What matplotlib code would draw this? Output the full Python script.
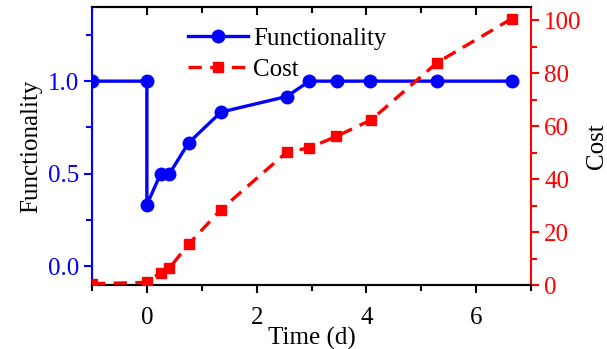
import numpy as np
import matplotlib.pyplot as plt
from matplotlib.ticker import MultipleLocator

plt.rcParams["font.family"] = ["Liberation Serif", "DejaVu Serif"]
plt.rcParams["font.size"] = 18

# data
func_t = [-1, 0, 0, 0.25, 0.41, 0.76, 1.35, 2.55, 2.96, 3.47, 4.07, 5.29, 6.65]
func_val = [1.0, 1.0, 0.333, 0.5, 0.5, 0.667, 0.833, 0.917, 1.0, 1.0, 1.0, 1.0, 1.0]

cost_t = [-1, 0, 0.25, 0.41, 0.76, 1.35, 2.55, 2.96, 3.45, 4.09, 5.29, 6.65]
cost_val = [0.5, 1.0, 4.7, 6.4, 15.4, 28.5, 50.2, 51.8, 56.1, 62.4, 84.0, 100.6]

BLUE = "#0000ff"
RED = "#ff0000"

fig = plt.figure(figsize=(6.07, 3.49), dpi=100)
ax = fig.add_axes([92 / 607, 64 / 349, 439 / 607, 278 / 349])
ax2 = ax.twinx()

l1, = ax.plot(func_t, func_val, color=BLUE, lw=2.4, marker="o", ms=9,
              label="Functionality", zorder=3)
l2, = ax2.plot(cost_t, cost_val, color=RED, lw=2.4, ls=(0, (4.0, 2.5)),
               marker="s", ms=7.8, label="Cost", zorder=3)

ax.set_xlim(-1, 7)
ax.set_ylim(-0.1, 1.4)
ax2.set_ylim(0, 105)

ax.xaxis.set_major_locator(MultipleLocator(2))
ax.xaxis.set_minor_locator(MultipleLocator(1))
ax.yaxis.set_major_locator(MultipleLocator(0.5))
ax.yaxis.set_minor_locator(MultipleLocator(0.25))
ax2.yaxis.set_major_locator(MultipleLocator(20))
ax2.yaxis.set_minor_locator(MultipleLocator(10))

ax.tick_params(axis="x", which="both", direction="out", top=False, width=1.5, pad=10)
ax.tick_params(axis="x", which="major", length=6)
ax.tick_params(axis="x", which="minor", length=4)
ax.tick_params(axis="y", which="both", direction="out", colors=BLUE, width=1.5)
ax.tick_params(axis="y", which="major", length=6)
ax.tick_params(axis="y", which="minor", length=4)
ax2.tick_params(axis="y", which="both", direction="out", colors=RED, width=1.5)
ax2.tick_params(axis="y", which="major", length=6)
ax2.tick_params(axis="y", which="minor", length=4)

# top inward ticks drawn by the twin's x axis
ax2.xaxis.set_visible(True)
ax2.tick_params(axis="x", which="both", direction="in", bottom=False, top=True,
                labelbottom=False, labeltop=False, width=1.5)
ax2.tick_params(axis="x", which="major", length=6)
ax2.tick_params(axis="x", which="minor", length=4)

for s in ["bottom", "top"]:
    ax.spines[s].set_linewidth(1.5)
    ax2.spines[s].set_linewidth(1.5)
ax2.spines["left"].set_color(BLUE)
ax2.spines["left"].set_linewidth(1.5)
ax2.spines["right"].set_color(RED)
ax2.spines["right"].set_linewidth(1.5)
ax.spines["left"].set_color(BLUE)
ax.spines["right"].set_visible(False)

ax.set_xlabel("Time (d)", labelpad=-2)
ax.set_ylabel("Functionality", labelpad=4)
ax2.set_ylabel("Cost", labelpad=3)

ax2.legend([l1, l2], ["Functionality", "Cost"], loc="upper left",
           bbox_to_anchor=(0.174, 1.0), frameon=False, handlelength=2.4,
           handletextpad=0.2, borderaxespad=0.4, labelspacing=0.35)

fig.savefig("out.png", dpi=100)
